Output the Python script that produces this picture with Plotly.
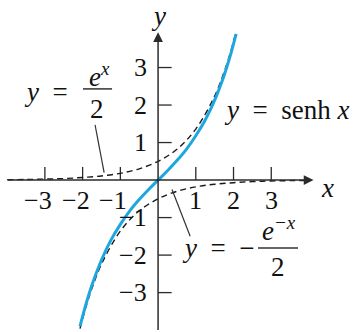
import plotly.graph_objects as go

x_sinh = [-2.07, -1.9, -1.75, -1.5, -1.25, -1.0, -0.75, -0.5, -0.25, 0.0,
          0.25, 0.5, 0.75, 1.0, 1.25, 1.5, 1.75, 1.9, 2.07]
y_sinh = [-3.90, -3.27, -2.79, -2.13, -1.60, -1.18, -0.82, -0.52, -0.25, 0.0,
          0.25, 0.52, 0.82, 1.18, 1.60, 2.13, 2.79, 3.27, 3.90]

x_exp = [-4.0, -3.5, -3.0, -2.5, -2.0, -1.5, -1.0, -0.5, 0.0, 0.5, 1.0, 1.5, 1.75, 1.9, 2.07]
y_exp = [0.01, 0.015, 0.025, 0.04, 0.07, 0.11, 0.18, 0.30, 0.50, 0.82, 1.36, 2.24, 2.88, 3.34, 3.96]

x_nexp = [-2.07, -1.9, -1.75, -1.5, -1.0, -0.5, 0.0, 0.5, 1.0, 1.5, 2.0, 2.5, 3.0, 3.5, 4.0]
y_nexp = [-3.96, -3.34, -2.88, -2.24, -1.36, -0.82, -0.50, -0.30, -0.18, -0.11, -0.07, -0.04, -0.025, -0.015, -0.01]

x_ticks = [-3, -2, -1, 1, 2, 3]
y_ticks = [-3, -2, -1, 1, 2, 3]

FONT = "Liberation Serif"
INK = "#2b2b2b"
BLUE = "#1ea7df"

fig = go.Figure()

# axes
fig.add_shape(type="line", x0=-3.98, y0=0, x1=4.0, y1=0, line=dict(color=INK, width=1.5))
fig.add_shape(type="line", x0=0, y0=-4.0, x1=0, y1=3.8, line=dict(color=INK, width=1.5))
fig.add_annotation(x=4.12, y=0, ax=3.9, ay=0, axref="x", ayref="y", text="", showarrow=True,
                   arrowhead=2, arrowsize=1.3, arrowwidth=1.5, arrowcolor=INK)
fig.add_annotation(x=0, y=3.94, ax=0, ay=3.7, axref="x", ayref="y", text="", showarrow=True,
                   arrowhead=2, arrowsize=1.3, arrowwidth=1.5, arrowcolor=INK)

# tick marks
tx, ty = [], []
for t in x_ticks:
    tx += [t, t, None]
    ty += [0, 0.35, None]
for t in y_ticks:
    tx += [0, 0.36, None]
    ty += [t, t, None]
fig.add_trace(go.Scatter(x=tx, y=ty, mode="lines", line=dict(color=INK, width=1.3),
                         hoverinfo="skip", showlegend=False))

# curves
dash = dict(color="#1a1a1a", width=1.4, dash="6px,4px", shape="spline")
fig.add_trace(go.Scatter(x=x_exp, y=y_exp, mode="lines", line=dash, showlegend=False))
fig.add_trace(go.Scatter(x=x_nexp, y=y_nexp, mode="lines", line=dash, showlegend=False))
fig.add_trace(go.Scatter(x=x_sinh, y=y_sinh, mode="lines", line=dict(color=BLUE, width=3, shape="spline"),
                         showlegend=False))

# tick labels
tf = dict(family=FONT, size=26, color="#111")
for t in x_ticks:
    lab = str(t).replace("-", "\u2212")
    fig.add_annotation(x=t, y=-0.55, text=lab, showarrow=False, xshift=-7 if t < 0 else 0, font=tf)
for t in y_ticks:
    lab = str(t).replace("-", "\u2212")
    fig.add_annotation(x=-0.25, y=t, text=lab, showarrow=False, xanchor="right", font=tf)

# axis names
f = dict(family=FONT, size=27, color="#111")
fig.add_annotation(x=0, y=4.38, text="<i>y</i>", showarrow=False, font=f)
fig.add_annotation(x=4.5, y=-0.2, text="<i>x</i>", showarrow=False, font=f)

# curve labels
fig.add_annotation(x=3.4, y=1.87, text="<i>y</i>  =  senh <i>x</i>", showarrow=False, font=f)

fig.add_annotation(x=-2.98, y=2.35, text="<i>y</i>  =", showarrow=False, font=f)
fig.add_annotation(x=-1.55, y=2.8, text="<i>e<sup>x</sup></i>", showarrow=False, font=f)
fig.add_shape(type="line", x0=-1.99, y0=2.43, x1=-1.22, y1=2.43, line=dict(color="#333", width=1.5))
fig.add_annotation(x=-1.62, y=1.9, text="2", showarrow=False, font=f)
fig.add_shape(type="line", x0=-1.67, y0=1.47, x1=-1.43, y1=0.2, line=dict(color="#333", width=1.2))

fig.add_annotation(x=1.58, y=-1.81, text="<i>y</i>  =  \u2212", showarrow=False, font=f)
fig.add_annotation(x=3.2, y=-1.3, text="<i>e<sup>\u2212x</sup></i>", showarrow=False, font=f)
fig.add_shape(type="line", x0=2.65, y0=-1.81, x1=3.71, y1=-1.81, line=dict(color="#333", width=1.5))
fig.add_annotation(x=3.18, y=-2.33, text="2", showarrow=False, font=f)
fig.add_shape(type="line", x0=0.37, y0=-0.25, x1=0.85, y1=-1.5, line=dict(color="#333", width=1.2))

fig.update_layout(
    width=355, height=332,
    margin=dict(l=0, r=0, t=0, b=0),
    paper_bgcolor="white", plot_bgcolor="white",
    xaxis=dict(range=[-4.19, 5.22], visible=False, fixedrange=True),
    yaxis=dict(range=[-4.05, 4.8], visible=False, fixedrange=True),
)

fig.write_html("out.html", config={"displayModeBar": False},
               post_script="document.body.style.margin='0';")
